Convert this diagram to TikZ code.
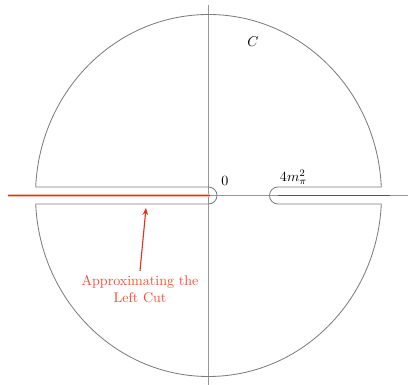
\documentclass[tikz,border=0pt]{standalone}
\usepackage{tikz}
\usetikzlibrary{arrows.meta,positioning}
\definecolor{cutred}{RGB}{228,48,28}
\definecolor{notered}{RGB}{240,78,55}
\definecolor{linegray}{RGB}{125,125,125}
\begin{document}
\begin{tikzpicture}[x=0.025cm,y=0.025cm,
    contour/.style={linegray,line width=0.6pt},
    axis/.style={linegray!80,line width=0.5pt},
    mark label/.style={inner sep=1pt}]
        \useasboundingbox (-208.5,-189.5) rectangle (199.5,195.5);
        \coordinate (xl) at (-200,0);
        \coordinate (xr) at (199,0);
        \coordinate (yt) at (0,190.5);
        \coordinate (yb) at (0,-189.5);
        \draw[axis] (xl) -- (xr);
        \draw[axis] (yb) -- (yt);
        \draw[contour] (69.5,8.5) -- (172.8,8.5)
          arc[start angle=2.69,end angle=177.31,x radius=173,y radius=181]
          -- (0,8.5) arc[start angle=90,end angle=-90,radius=8.5]
          -- (-172.8,-8.5)
          arc[start angle=182.69,end angle=357.31,x radius=173,y radius=181]
          -- (69.5,-8.5) arc[start angle=270,end angle=90,radius=8.5] -- cycle;
        \coordinate (rcut0) at (69.5,0);
        \coordinate (rcut1) at (181.5,0);
        \draw[black!65,line width=0.9pt] (rcut0) -- (rcut1);
        \coordinate (lcut0) at (-200.5,0);
        \coordinate (lcut1) at (1.5,0);
        \draw[cutred!35,line width=2.4pt] (lcut0) -- (lcut1);
        \draw[cutred,line width=1.1pt] (lcut0) -- (lcut1);
        \node[mark label] (zero) at (16.5,15) {$0$};
        \node[mark label] (thr) at (85,18) {$4m_\pi^2$};
        \node[mark label] (cc) at (44.5,153.5) {$C$};
        \node[notered,align=center] (lbl) at (-68.5,-94) {Approximating the\\Left Cut};
        \coordinate (cuttip) at (-62.5,-12.5);
        \draw[cutred,line width=0.8pt,-{Stealth[length=5pt,width=4pt]}] (lbl.north) -- (cuttip);
      \end{tikzpicture}
\end{document}
